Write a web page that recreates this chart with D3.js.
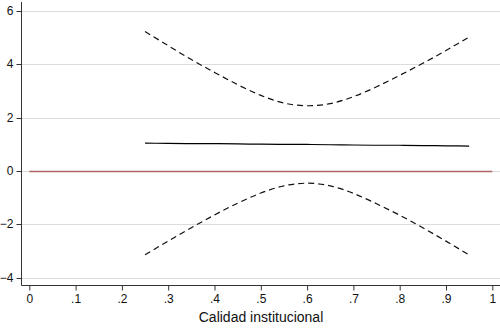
<!DOCTYPE html>
<html>
<head>
<meta charset="utf-8">
<script src="https://cdn.jsdelivr.net/npm/d3@7"></script>
<style>
  body { margin: 0; background: #fff; }
  svg { display: block; font-family: "Liberation Sans", Arial, sans-serif; }
</style>
</head>
<body>
<svg id="chart"></svg>
<script>
const WIDTH = 500;
const HEIGHT = 330;

// values
const xVals = [0.25, 0.30, 0.35, 0.40, 0.45, 0.50, 0.55, 0.60, 0.65, 0.70, 0.75, 0.80, 0.85, 0.90, 0.95];
const effect = [1.04, 1.03, 1.02, 1.02, 1.01, 1.00, 0.99, 0.99, 0.98, 0.97, 0.96, 0.96, 0.95, 0.94, 0.93];
const upper = [5.22, 4.69, 4.17, 3.69, 3.23, 2.83, 2.54, 2.44, 2.52, 2.78, 3.15, 3.58, 4.03, 4.51, 5.01];
const lower = [-3.14, -2.63, -2.13, -1.65, -1.21, -0.83, -0.56, -0.46, -0.56, -0.84, -1.23, -1.66, -2.13, -2.63, -3.15];

const xTicks = [0, 0.1, 0.2, 0.3, 0.4, 0.5, 0.6, 0.7, 0.8, 0.9, 1];
const xTickLabels = ["0", ".1", ".2", ".3", ".4", ".5", ".6", ".7", ".8", ".9", "1"];
const yTicks = [-4, -2, 0, 2, 4, 6];
const xTitle = "Calidad institucional";

const AXIS_X = 21.5;
const AXIS_Y = 285.5;

function main(){
    var svg = d3.select("#chart")
        .attr("width", WIDTH)
        .attr("height", HEIGHT);

    var x = d3.scaleLinear().domain([0, 1]).range([29.3, 492.3]);
    var y = d3.scaleLinear().domain([-4, 6]).range([277.7, 10.7]);

    // gridlines
    svg.append("g").selectAll("line")
        .data(yTicks)
        .enter()
        .append("line")
        .attr("x1", AXIS_X)
        .attr("x2", WIDTH)
        .attr("y1", d=>Math.round(y(d)) + 0.5)
        .attr("y2", d=>Math.round(y(d)) + 0.5)
        .attr("stroke", "#dcdcdc")
        .attr("stroke-width", 1);

    // y axis
    var yAxis = d3.axisLeft(y)
        .tickValues(yTicks)
        .tickSize(5)
        .tickPadding(3)
        .tickFormat(d3.format("d"));
    var gy = svg.append("g")
        .attr("transform", "translate(" + AXIS_X + ",0)")
        .call(yAxis);
    gy.select(".domain").remove();
    gy.selectAll(".tick line").attr("stroke", "#333");
    gy.selectAll(".tick text").attr("font-size", 12).attr("fill", "#111")
        .attr("font-family", "\"Liberation Sans\", Arial, sans-serif");
    gy.selectAll(".tick").attr("transform", d=>"translate(0," + (Math.round(y(d)) + 0.5) + ")");
    svg.append("line")
        .attr("x1", AXIS_X).attr("x2", AXIS_X)
        .attr("y1", 2).attr("y2", AXIS_Y)
        .attr("stroke", "#333");

    // x axis
    var xAxis = d3.axisBottom(x)
        .tickValues(xTicks)
        .tickSize(5)
        .tickPadding(4)
        .tickFormat((d,i)=>xTickLabels[i]);
    var gx = svg.append("g")
        .attr("transform", "translate(0," + AXIS_Y + ")")
        .call(xAxis);
    gx.select(".domain").remove();
    gx.selectAll(".tick line").attr("stroke", "#333");
    gx.selectAll(".tick text").attr("font-size", 12).attr("fill", "#111")
        .attr("font-family", "\"Liberation Sans\", Arial, sans-serif");
    svg.append("line")
        .attr("x1", AXIS_X).attr("x2", WIDTH)
        .attr("y1", AXIS_Y).attr("y2", AXIS_Y)
        .attr("stroke", "#333");

    svg.append("text")
        .attr("x", 261)
        .attr("y", 322)
        .attr("text-anchor", "middle")
        .attr("font-size", 14)
        .attr("fill", "#111")
        .text(xTitle);

    // reference line at zero
    svg.append("line")
        .attr("x1", x(0)).attr("x2", x(1))
        .attr("y1", Math.round(y(0)) + 0.5).attr("y2", Math.round(y(0)) + 0.5)
        .attr("stroke", "#b0646a")
        .attr("stroke-width", 1.3);

    var line = d3.line()
        .x(d=>x(d[0]))
        .y(d=>y(d[1]))
        .curve(d3.curveNatural);

    svg.append("path")
        .datum(d3.zip(xVals, effect))
        .attr("d", line)
        .attr("fill", "none")
        .attr("stroke", "#000")
        .attr("stroke-width", 1.2);

    [upper, lower].forEach(band=>{
        svg.append("path")
            .datum(d3.zip(xVals, band))
            .attr("d", line)
            .attr("fill", "none")
            .attr("stroke", "#111")
            .attr("stroke-width", 1.2)
            .attr("stroke-dasharray", "6,4");
    });
}

main();
</script>
</body>
</html>
